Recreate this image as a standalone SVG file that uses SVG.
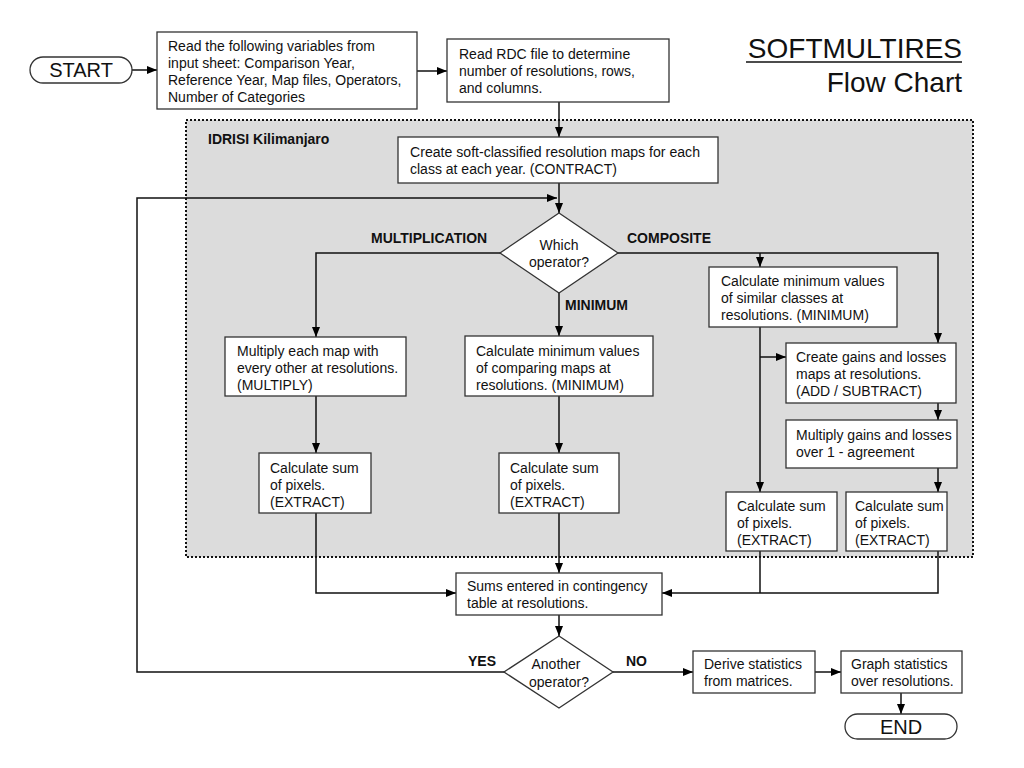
<svg xmlns="http://www.w3.org/2000/svg" width="1024" height="768" viewBox="0 0 1024 768">
<defs>
<marker id="ah" markerUnits="userSpaceOnUse" markerWidth="10" markerHeight="8" refX="10" refY="4" orient="auto">
<path d="M0,0 L10,4 L0,8 z" fill="#000"/>
</marker>
<style>
.box{fill:#fff;stroke:#333;stroke-width:1.3}
.t{font-family:"Liberation Sans",Arial,sans-serif;font-size:14px;fill:#111}
.b{font-family:"Liberation Sans",Arial,sans-serif;font-size:14px;font-weight:bold;fill:#111}
.big{font-family:"Liberation Sans",Arial,sans-serif;font-size:20px;fill:#111}
.title{font-family:"Liberation Sans",Arial,sans-serif;font-size:28px;fill:#111}
.c{fill:none;stroke:#111;stroke-width:1.5}
.ca{fill:none;stroke:#111;stroke-width:1.5;marker-end:url(#ah)}
</style>
</defs>
<rect width="1024" height="768" fill="#fff"/>

<g id="title">
<text class="title" x="962" y="58" text-anchor="end">SOFTMULTIRES</text>
<line x1="746" y1="62" x2="962" y2="62" stroke="#111" stroke-width="1.5"/>
<text class="title" x="962" y="92" text-anchor="end">Flow Chart</text>
</g>

<g id="container">
<rect x="186" y="120" width="787" height="437" fill="#dcdcdc" stroke="#111" stroke-width="2" stroke-dasharray="2,2"/>
<text class="b" x="208" y="144">IDRISI Kilimanjaro</text>
</g>

<g id="connectors">
<path class="ca" d="M132,70 H157"/>
<path class="ca" d="M417,71 H447"/>
<path class="ca" d="M559,102 V137"/>
<path class="ca" d="M559,183 V213"/>
<path class="ca" d="M504,672 H137 V198 H557"/>
<path class="ca" d="M500,253 H316 V337"/>
<path class="ca" d="M559,293 V336"/>
<path class="ca" d="M618,253 H938 V343"/>
<path class="ca" d="M760,253 V267"/>
<path class="ca" d="M760,327 V492"/>
<path class="ca" d="M760,357 H786"/>
<path class="ca" d="M938,403 V420"/>
<path class="ca" d="M938,468 V492"/>
<path class="ca" d="M316,396 V453"/>
<path class="ca" d="M559,396 V453"/>
<path class="ca" d="M316,513 V593 H456"/>
<path class="ca" d="M559,513 V573"/>
<path class="c" d="M760,551 V593"/>
<path class="ca" d="M938,551 V593 H662"/>
<path class="ca" d="M559,615 V636"/>
<path class="ca" d="M613,672 H693"/>
<path class="ca" d="M815,672 H841"/>
<path class="ca" d="M901,693 V714"/>
</g>

<g id="labels">
<text class="b" x="371" y="243">MULTIPLICATION</text>
<text class="b" x="627" y="243">COMPOSITE</text>
<text class="b" x="565" y="310">MINIMUM</text>
<text class="b" x="468" y="666">YES</text>
<text class="b" x="626" y="666">NO</text>
</g>

<g id="start">
<rect x="30" y="57" width="102" height="26" rx="13" class="box"/>
<text class="big" x="81" y="77" text-anchor="middle">START</text>
</g>

<g id="read-vars">
<rect x="157" y="32" width="260" height="77" class="box"/>
<text class="t" x="168" y="51">Read the following variables from</text>
<text class="t" x="168" y="68">input sheet: Comparison Year,</text>
<text class="t" x="168" y="85">Reference Year, Map files, Operators,</text>
<text class="t" x="168" y="102">Number of Categories</text>
</g>

<g id="read-rdc">
<rect x="447" y="39" width="222" height="63" class="box"/>
<text class="t" x="459" y="59">Read RDC file to determine</text>
<text class="t" x="459" y="76">number of resolutions, rows,</text>
<text class="t" x="459" y="93">and columns.</text>
</g>

<g id="contract">
<rect x="398" y="137" width="320" height="46" class="box"/>
<text class="t" x="410" y="157" textLength="290" lengthAdjust="spacingAndGlyphs">Create soft-classified resolution maps for each</text>
<text class="t" x="410" y="174">class at each year. (CONTRACT)</text>
</g>

<g id="which-operator">
<polygon points="559,213 618,253 559,293 500,253" class="box"/>
<text class="t" x="559" y="250" text-anchor="middle">Which</text>
<text class="t" x="559" y="267" text-anchor="middle">operator?</text>
</g>

<g id="multiply">
<rect x="225" y="337" width="181" height="59" class="box"/>
<text class="t" x="237" y="356">Multiply each map with</text>
<text class="t" x="237" y="373">every other at resolutions.</text>
<text class="t" x="237" y="390">(MULTIPLY)</text>
</g>

<g id="minimum">
<rect x="465" y="336" width="188" height="60" class="box"/>
<text class="t" x="476" y="356">Calculate minimum values</text>
<text class="t" x="476" y="373">of comparing maps at</text>
<text class="t" x="476" y="390">resolutions. (MINIMUM)</text>
</g>

<g id="min-similar">
<rect x="709" y="267" width="188" height="60" class="box"/>
<text class="t" x="721" y="286">Calculate minimum values</text>
<text class="t" x="721" y="303">of similar classes at</text>
<text class="t" x="721" y="320">resolutions. (MINIMUM)</text>
</g>

<g id="gains-losses">
<rect x="786" y="343" width="170" height="60" class="box"/>
<text class="t" x="796" y="362">Create gains and losses</text>
<text class="t" x="796" y="379">maps at resolutions.</text>
<text class="t" x="796" y="396">(ADD / SUBTRACT)</text>
</g>

<g id="multiply-gains">
<rect x="786" y="420" width="171" height="48" class="box"/>
<text class="t" x="796" y="440">Multiply gains and losses</text>
<text class="t" x="796" y="457">over 1 - agreement</text>
</g>

<g id="sum-mult">
<rect x="259" y="453" width="112" height="60" class="box"/>
<text class="t" x="270" y="473">Calculate sum</text>
<text class="t" x="270" y="490">of pixels.</text>
<text class="t" x="270" y="507">(EXTRACT)</text>
</g>

<g id="sum-min">
<rect x="499" y="453" width="120" height="60" class="box"/>
<text class="t" x="510" y="473">Calculate sum</text>
<text class="t" x="510" y="490">of pixels.</text>
<text class="t" x="510" y="507">(EXTRACT)</text>
</g>

<g id="sum-comp1">
<rect x="726" y="492" width="111" height="59" class="box"/>
<text class="t" x="737" y="511">Calculate sum</text>
<text class="t" x="737" y="528">of pixels.</text>
<text class="t" x="737" y="545">(EXTRACT)</text>
</g>

<g id="sum-comp2">
<rect x="846" y="492" width="101" height="59" class="box"/>
<text class="t" x="855" y="511">Calculate sum</text>
<text class="t" x="855" y="528">of pixels.</text>
<text class="t" x="855" y="545">(EXTRACT)</text>
</g>

<g id="contingency">
<rect x="456" y="573" width="206" height="42" class="box"/>
<text class="t" x="467" y="591">Sums entered in contingency</text>
<text class="t" x="467" y="608">table at resolutions.</text>
</g>

<g id="another-operator">
<polygon points="559,636 613,672 559,708 504,672" class="box"/>
<text class="t" x="556" y="669" text-anchor="middle">Another</text>
<text class="t" x="559" y="687" text-anchor="middle">operator?</text>
</g>

<g id="derive">
<rect x="693" y="651" width="122" height="42" class="box"/>
<text class="t" x="704" y="669">Derive statistics</text>
<text class="t" x="704" y="686">from matrices.</text>
</g>

<g id="graph">
<rect x="841" y="651" width="121" height="42" class="box"/>
<text class="t" x="851" y="669">Graph statistics</text>
<text class="t" x="851" y="686">over resolutions.</text>
</g>

<g id="end">
<rect x="845" y="714" width="112" height="25" rx="12.5" class="box"/>
<text class="big" x="901" y="734" text-anchor="middle">END</text>
</g>
</svg>
